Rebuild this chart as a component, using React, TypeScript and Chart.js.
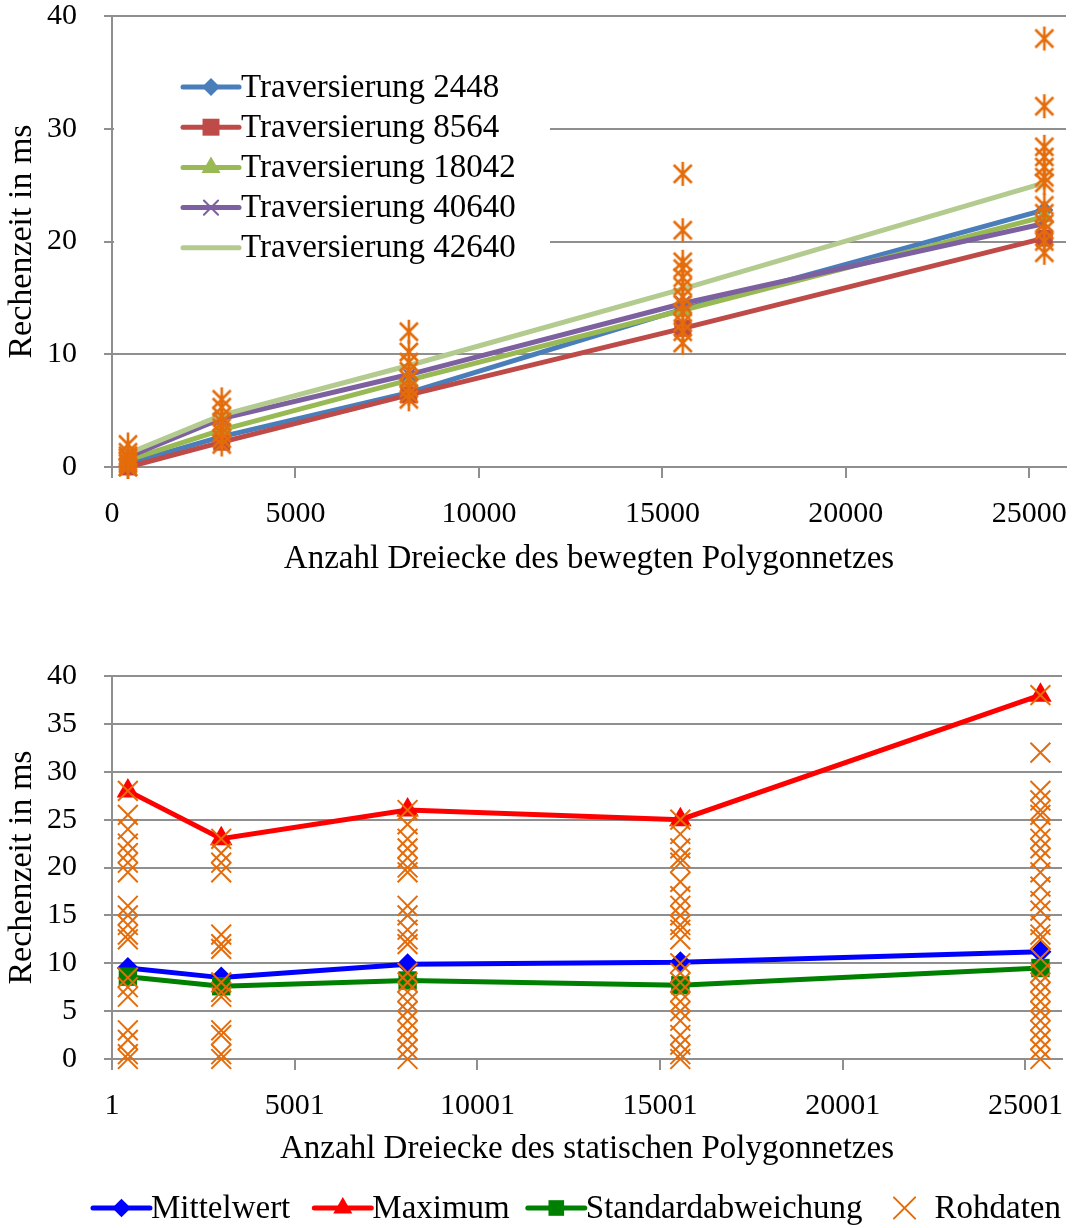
import React, { useEffect, useRef } from 'react';
import { Chart, registerables } from 'chart.js';

Chart.register(...registerables);

// ---------- data ----------
const triangleCounts = [435, 2990, 8090, 15555, 25410];

const topXTicks = [0, 5000, 10000, 15000, 20000, 25000];
const topLabels = ['Traversierung 2448', 'Traversierung 8564', 'Traversierung 18042', 'Traversierung 40640', 'Traversierung 42640'];
const trav2448 = [0.3, 2.7, 6.6, 14.0, 22.8];
const trav8564 = [0, 2.2, 6.4, 12.3, 20.3];
const trav18042 = [0.6, 3.3, 7.7, 13.9, 22.2];
const trav40640 = [0.9, 4.3, 8.2, 14.5, 21.6];
const trav42640 = [1.2, 4.6, 9.0, 15.8, 25.2];

const topRaw0 = [0, 0, 0.3, 0.5, 0.8, 1, 1.3, 2];
const topRaw1 = [2, 2.5, 3, 3.5, 4, 4.5, 5.3, 6];
const topRaw2 = [6, 6.5, 7, 7.8, 8.5, 9.3, 10.2, 12];
const topRaw3 = [11, 12, 12.8, 13.7, 14.4, 15.1, 16, 16.8, 17.6, 18.2, 21, 26];
const topRaw4 = [19, 20, 21, 21.6, 22.5, 23.2, 25.2, 25.7, 26.6, 27.5, 28.4, 32, 38];

const bottomXTicks = [1, 5001, 10001, 15001, 20001, 25001];
const bottomLabels = ['Mittelwert', 'Maximum', 'Standardabweichung', 'Rohdaten'];
const meanValues = [9.5, 8.5, 9.9, 10.1, 11.2];
const maxValues = [28, 23, 26, 25, 38];
const stdValues = [8.6, 7.6, 8.2, 7.7, 9.5];

const botRaw0 = [0, 0.5, 2, 3, 6.5, 7.5, 8.5, 12.5, 13, 14, 15, 16, 19.5, 20.5, 21.5, 22.5, 24, 25.5, 28];
const botRaw1 = [0, 0.5, 2.5, 3, 6.5, 7, 8, 11.5, 12, 13, 19.5, 20.5, 21.5, 23];
const botRaw2 = [0, 1, 2, 3, 4, 5, 6, 7, 8, 9, 12, 12.5, 13.5, 15, 16, 19.5, 20, 21, 22, 23, 24.5, 26];
const botRaw3 = [0, 0.5, 1.5, 2.5, 4, 5, 6, 7, 8, 9, 10, 12.5, 13.5, 14, 15, 16, 17, 18.5, 20.5, 21, 22, 23.5, 25];
const botRaw4 = [0, 1, 2, 3, 4, 5, 6, 7, 8, 9, 10.5, 12.5, 13, 14, 15.5, 16.5, 18, 19.5, 21, 22, 23, 24, 25.5, 26, 27, 28, 32, 38];

// ---------- styles ----------
const FONT = "'Liberation Serif', 'Times New Roman', serif";
const FS = 30;      // tick labels
const FS_T = 33;    // axis titles, legends
const FS_Y = 34;    // y title
const GRID = '#8f8f8f';
const topColors = ['#4A7EBB', '#BE4B48', '#98B954', '#7D60A0', '#B3CB8E'];
const topMarkers = ['rectRot', 'rect', 'triangle', 'crossRot', 'none'];
const topRadius = [9, 12, 11, 10, 0];
const bottomColors = ['#0000FF', '#FF0000', '#008000', '#E46C0A'];
const bottomMarkers = ['rectRot', 'triangle', 'rect', 'crossRot'];
const bottomRadius = [11, 13, 13, 14];
const RAW_COLOR = '#E46C0A';

Chart.defaults.font.family = FONT;

function makeStar(color: string) {
  const c = document.createElement('canvas');
  c.width = 24;
  c.height = 26;
  const g = c.getContext('2d')!;
  g.strokeStyle = color;
  g.lineWidth = 2.6;
  g.beginPath();
  g.moveTo(3, 4); g.lineTo(21, 22);
  g.moveTo(21, 4); g.lineTo(3, 22);
  g.moveTo(12, 1); g.lineTo(12, 25);
  g.stroke();
  return c;
}

function drawMarker(ctx: CanvasRenderingContext2D, style: string, x: number, y: number, r: number, color: string) {
  ctx.save();
  ctx.fillStyle = color;
  ctx.strokeStyle = color;
  ctx.beginPath();
  if (style === 'rectRot') {
    ctx.moveTo(x - r, y); ctx.lineTo(x, y - r); ctx.lineTo(x + r, y); ctx.lineTo(x, y + r); ctx.closePath(); ctx.fill();
  } else if (style === 'rect') {
    const s = r * Math.SQRT1_2;
    ctx.rect(x - s, y - s, 2 * s, 2 * s); ctx.fill();
  } else if (style === 'triangle') {
    ctx.moveTo(x, y - r);
    ctx.lineTo(x + Math.sin(2 * Math.PI / 3) * r, y + 0.5 * r);
    ctx.lineTo(x - Math.sin(2 * Math.PI / 3) * r, y + 0.5 * r);
    ctx.closePath(); ctx.fill();
  } else if (style === 'crossRot') {
    const d = r * Math.SQRT1_2;
    ctx.lineWidth = 2;
    ctx.moveTo(x - d, y - d); ctx.lineTo(x + d, y + d);
    ctx.moveTo(x + d, y - d); ctx.lineTo(x - d, y + d);
    ctx.stroke();
  }
  ctx.restore();
}

const topLegendPlugin = {
  id: 'topLegend',
  afterDatasetsDraw(chart: any) {
    const { ctx, chartArea } = chart;
    const x0 = chartArea.left;
    const y0 = chartArea.top;
    ctx.save();
    ctx.fillStyle = '#ffffff';
    ctx.fillRect(x0 + 2, y0 + 40, 436, 212);
    ctx.font = `${FS_T}px ${FONT}`;
    ctx.textBaseline = 'middle';
    ctx.textAlign = 'left';
    topLabels.forEach((label, i) => {
      const y = y0 + 71 + i * 40.2;
      const lx = x0 + 71;
      ctx.strokeStyle = topColors[i];
      ctx.lineWidth = 5;
      ctx.lineCap = 'round';
      ctx.beginPath();
      ctx.moveTo(lx, y); ctx.lineTo(lx + 56, y);
      ctx.stroke();
      drawMarker(ctx, topMarkers[i], lx + 28, y, topRadius[i], topColors[i]);
      ctx.fillStyle = '#000';
      ctx.fillText(label, lx + 58, y + 1);
    });
    ctx.restore();
  },
};

const bottomLegendPlugin = {
  id: 'bottomLegend',
  afterDraw(chart: any) {
    const { ctx, chartArea, height } = chart;
    ctx.save();
    ctx.font = `${FS_T}px ${FONT}`;
    ctx.textBaseline = 'middle';
    ctx.textAlign = 'left';
    const iconW = 57;
    const gaps = [24, 18, 30];
    const widths = bottomLabels.map((l) => ctx.measureText(l).width);
    const rawIconW = 42;
    let total = 0;
    widths.forEach((w, i) => {
      total += (i === 3 ? rawIconW : iconW + 1) + w + (i < 3 ? gaps[i] : 0);
    });
    let x = (chartArea.left + chartArea.right) / 2 - total / 2 - 10;
    const y = height - 20;
    bottomLabels.forEach((label, i) => {
      if (i < 3) {
        ctx.strokeStyle = bottomColors[i];
        ctx.lineWidth = 5;
        ctx.lineCap = 'round';
        ctx.beginPath();
        ctx.moveTo(x, y); ctx.lineTo(x + iconW, y);
        ctx.stroke();
        drawMarker(ctx, bottomMarkers[i], x + iconW / 2, y, bottomRadius[i] * 0.85, bottomColors[i]);
        x += iconW + 1;
      } else {
        drawMarker(ctx, 'crossRot', x + 12, y, 15, RAW_COLOR);
        x += rawIconW;
      }
      ctx.fillStyle = '#000';
      ctx.fillText(label, x, y + 1);
      x += widths[i] + (i < 3 ? gaps[i] : 0);
    });
    ctx.restore();
  },
};

function toPoints(xs: number[], ys: number[]) {
  return xs.map((x, i) => ({ x, y: ys[i] }));
}
function rawPoints(cols: number[][]) {
  const pts: { x: number; y: number }[] = [];
  cols.forEach((col, i) => col.forEach((v) => pts.push({ x: triangleCounts[i], y: v })));
  return pts;
}

function makeScales(opts: {
  xMin: number; xMax: number; xTicks: number[]; xTitle: string; xHeight: number; xTitleBottom: number;
  yMax: number; yStep: number;
}) {
  return {
    x: {
      type: 'linear',
      min: opts.xMin,
      max: opts.xMax,
      afterBuildTicks: (s: any) => { s.ticks = opts.xTicks.map((v) => ({ value: v })); },
      afterFit: (s: any) => { s.height = opts.xHeight; s.paddingLeft = 0; s.paddingRight = 0; },
      grid: { drawOnChartArea: false, drawTicks: true, tickLength: 11, color: GRID, lineWidth: 2 },
      border: { display: true, color: GRID, width: 2 },
      ticks: { font: { family: FONT, size: FS }, color: '#000', padding: 18, maxRotation: 0, autoSkip: false, callback: (v: any) => String(v) },
      title: { display: true, text: opts.xTitle, font: { family: FONT, size: FS_T }, color: '#000', padding: { top: 0, bottom: opts.xTitleBottom } },
    },
    y: {
      type: 'linear',
      min: 0,
      max: opts.yMax,
      afterFit: (s: any) => { s.width = 112; s.paddingTop = 0; s.paddingBottom = 0; },
      grid: { drawTicks: true, tickLength: 8, color: GRID, lineWidth: 2 },
      border: { display: true, color: GRID, width: 2 },
      ticks: { stepSize: opts.yStep, font: { family: FONT, size: FS }, color: '#000', padding: 27 },
      title: { display: true, text: 'Rechenzeit in ms', font: { family: FONT, size: FS_Y }, color: '#000', padding: { top: 2, bottom: 0 } },
    },
  };
}

export default function App() {
  const topRef = useRef<HTMLCanvasElement>(null);
  const botRef = useRef<HTMLCanvasElement>(null);

  useEffect(() => {
    const star = makeStar(RAW_COLOR);
    const topSeries = [trav2448, trav8564, trav18042, trav40640, trav42640];
    const topDatasets: any[] = [
      {
        label: 'Rohdaten',
        data: rawPoints([topRaw0, topRaw1, topRaw2, topRaw3, topRaw4]),
        showLine: false,
        pointStyle: star,
        pointRadius: 11,
        order: 0,
        clip: false,
      },
      ...topSeries.map((vals, i) => ({
        label: topLabels[i],
        data: toPoints(triangleCounts, vals),
        borderColor: topColors[i],
        backgroundColor: topColors[i],
        borderWidth: 5,
        pointStyle: topMarkers[i] === 'none' ? false : topMarkers[i],
        pointRadius: topRadius[i],
        pointBorderWidth: topMarkers[i] === 'crossRot' ? 2 : 0,
        pointBackgroundColor: topColors[i],
        pointBorderColor: topColors[i],
        tension: 0,
        order: 5 - i,
        clip: false,
      })),
    ];

    const topChart = new Chart(topRef.current!, {
      type: 'line',
      data: { datasets: topDatasets },
      options: {
        responsive: false,
        animation: false,
        devicePixelRatio: 1,
        layout: { padding: { left: 0, top: 16, right: 9, bottom: 0 } },
        plugins: { legend: { display: false }, tooltip: { enabled: false } },
        scales: makeScales({
          xMin: 0, xMax: 26000, xTicks: topXTicks, xTitle: 'Anzahl Dreiecke des bewegten Polygonnetzes',
          xHeight: 123, xTitleBottom: 11, yMax: 40, yStep: 10,
        }) as any,
      },
      plugins: [topLegendPlugin],
    });

    const botSeries = [meanValues, maxValues, stdValues];
    const botDatasets: any[] = [
      {
        label: bottomLabels[3],
        data: rawPoints([botRaw0, botRaw1, botRaw2, botRaw3, botRaw4]),
        showLine: false,
        pointStyle: 'crossRot',
        pointRadius: bottomRadius[3],
        pointBorderWidth: 2,
        pointBorderColor: RAW_COLOR,
        pointBackgroundColor: RAW_COLOR,
        borderColor: RAW_COLOR,
        order: 0,
        clip: false,
      },
      ...botSeries.map((vals, i) => ({
        label: bottomLabels[i],
        data: toPoints(triangleCounts.map((v) => v + 1), vals),
        borderColor: bottomColors[i],
        backgroundColor: bottomColors[i],
        borderWidth: 5,
        pointStyle: bottomMarkers[i],
        pointRadius: bottomRadius[i],
        pointBorderWidth: 0,
        pointBackgroundColor: bottomColors[i],
        pointBorderColor: bottomColors[i],
        tension: 0,
        order: 3 - i,
        clip: false,
      })),
    ];

    const botChart = new Chart(botRef.current!, {
      type: 'line',
      data: { datasets: botDatasets },
      options: {
        responsive: false,
        animation: false,
        devicePixelRatio: 1,
        layout: { padding: { left: 0, top: 86, right: 9, bottom: 0 } },
        plugins: { legend: { display: false }, tooltip: { enabled: false } },
        scales: makeScales({
          xMin: 1, xMax: 26001, xTicks: bottomXTicks, xTitle: 'Anzahl Dreiecke des statischen Polygonnetzes',
          xHeight: 169, xTitleBottom: 59, yMax: 40, yStep: 5,
        }) as any,
      },
      plugins: [bottomLegendPlugin],
    });

    return () => {
      topChart.destroy();
      botChart.destroy();
    };
  }, []);

  return (
    <div style={{ position: 'absolute', left: 0, top: 0, width: 1078, height: 1228, background: '#fff', overflow: 'hidden' }}>
      <canvas ref={topRef} width={1078} height={590} style={{ display: 'block', width: 1078, height: 590 }} />
      <canvas ref={botRef} width={1078} height={638} style={{ display: 'block', width: 1078, height: 638 }} />
    </div>
  );
}
